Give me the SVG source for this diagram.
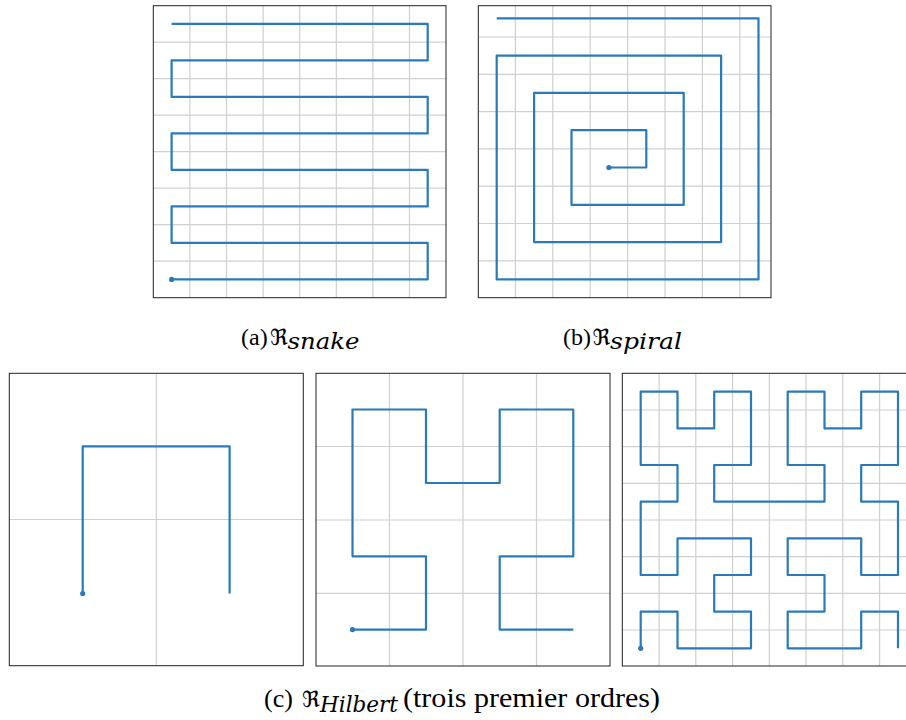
<svg xmlns="http://www.w3.org/2000/svg" width="906" height="720" viewBox="0 0 906 720">
<style>
.bg{fill:#ffffff}
.frame{fill:none;stroke:#222222;stroke-width:1}
.grid{fill:none;stroke:#cfcfcf;stroke-width:1.2}
.curve{fill:none;stroke:#2a7ab9;stroke-width:2.2;stroke-linejoin:round;stroke-linecap:butt}
.dot{fill:#2a7ab9}
.cap{font-family:"Liberation Serif","Times New Roman",serif;fill:#000}
.frak{font-family:"DejaVu Serif","DejaVu Sans",serif;fill:#000}
.sub{font-family:"DejaVu Serif","Liberation Serif",serif;font-style:italic;fill:#000}
</style>
<rect class="bg" x="0" y="0" width="906" height="720"/>

<g id="panel-snake">
  <path class="grid" d="M189.9 5.7V297.7M226.5 5.7V297.7M263.1 5.7V297.7M299.7 5.7V297.7M336.3 5.7V297.7M372.9 5.7V297.7M409.5 5.7V297.7M153.3 42.2H446M153.3 78.7H446M153.3 115.2H446M153.3 151.7H446M153.3 188.2H446M153.3 224.7H446M153.3 261.2H446"/>
  <rect class="frame" x="153.3" y="5.7" width="292.7" height="292"/>
  <path class="curve" d="M171.6 279.4H427.7V242.9H171.6V206.4H427.7V169.9H171.6V133.4H427.7V96.9H171.6V60.4H427.7V23.9H171.6"/>
  <circle class="dot" cx="171.6" cy="279.4" r="2.6"/>
</g>

<g id="panel-spiral">
  <path class="grid" d="M515.4 5.7V297.7M552.8 5.7V297.7M590.2 5.7V297.7M627.6 5.7V297.7M665 5.7V297.7M702.4 5.7V297.7M739.8 5.7V297.7M478.3 37H771M478.3 74.3H771M478.3 111.6H771M478.3 148.9H771M478.3 186.2H771M478.3 223.5H771M478.3 260.8H771"/>
  <rect class="frame" x="478.3" y="5.7" width="292.7" height="292"/>
  <path class="curve" d="M608.9 167.5H646.3V130.2H571.5V204.8H683.7V92.9H534.1V242.1H721.1V55.6H496.7V279.4H758.5V18.3H496.7"/>
  <circle class="dot" cx="608.9" cy="167.5" r="2.6"/>
</g>

<g id="caption-a">
  <text class="cap" x="241" y="345.3" font-size="24">(a)</text>
  <text class="frak" x="270" y="345.3" font-size="22">ℜ</text>
  <text class="sub" x="287.5" y="349" font-size="22" textLength="72" lengthAdjust="spacingAndGlyphs">snake</text>
</g>

<g id="caption-b">
  <text class="cap" x="563" y="345.3" font-size="24">(b)</text>
  <text class="frak" x="592.5" y="345.3" font-size="22">ℜ</text>
  <text class="sub" x="610" y="349" font-size="22" textLength="72" lengthAdjust="spacingAndGlyphs">spiral</text>
</g>

<g id="panel-hilbert-1">
  <path class="grid" d="M156.3 373.3V665.7M9.3 519.5H303.3"/>
  <rect class="frame" x="9.3" y="373.3" width="294" height="292.4"/>
  <path class="curve" d="M82.7 593.5V446.3H229.6V593.5"/>
  <circle class="dot" cx="82.7" cy="593.5" r="2.6"/>
</g>

<g id="panel-hilbert-2">
  <path class="grid" d="M389.5 373.3V666M463 373.3V666M536.5 373.3V666M316 446.5H610M316 520H610M316 593.3H610"/>
  <rect class="frame" x="316" y="373.3" width="294" height="292.7"/>
  <path class="curve" d="M352.5 629.6H426V556.3H352.5V409.5H426V483H499.7V409.5H573.3V556.3H499.7V629.6H573.3"/>
  <circle class="dot" cx="352.5" cy="629.6" r="2.6"/>
</g>

<g id="panel-hilbert-3">
  <path class="grid" d="M659.1 373.3V666M695.8 373.3V666M732.6 373.3V666M769.3 373.3V666M806 373.3V666M842.8 373.3V666M879.6 373.3V666M622.3 410H917M622.3 446.6H917M622.3 483.3H917M622.3 520H917M622.3 556.6H917M622.3 593.3H917M622.3 630H917"/>
  <rect class="frame" x="622.3" y="373.3" width="294" height="292.7"/>
  <path class="curve" d="M640.7 648.3V611.6H677.5V648.3H751V611.6H714.2V575H751V538.3H677.5V575H640.7V501.7H677.5V465H640.7V391.7H677.5V428.4H714.2V391.7H751V465H714.2V501.7H824.5V465H787.7V391.7H824.5V428.4H861.2V391.7H898V465H861.2V501.7H898V575H861.2V538.3H787.7V575H824.5V611.6H787.7V648.3H861.2V611.6H898V648.3"/>
  <circle class="dot" cx="640.7" cy="648.3" r="2.6"/>
</g>

<g id="caption-c">
  <text class="cap" x="264" y="706.7" font-size="26">(c)</text>
  <text class="frak" x="302" y="706.7" font-size="22">ℜ</text>
  <text class="sub" x="320" y="711.7" font-size="22" textLength="78" lengthAdjust="spacingAndGlyphs">Hilbert</text>
  <text class="cap" x="403" y="706.7" font-size="28" textLength="257" lengthAdjust="spacingAndGlyphs">(trois premier ordres)</text>
</g>
</svg>
